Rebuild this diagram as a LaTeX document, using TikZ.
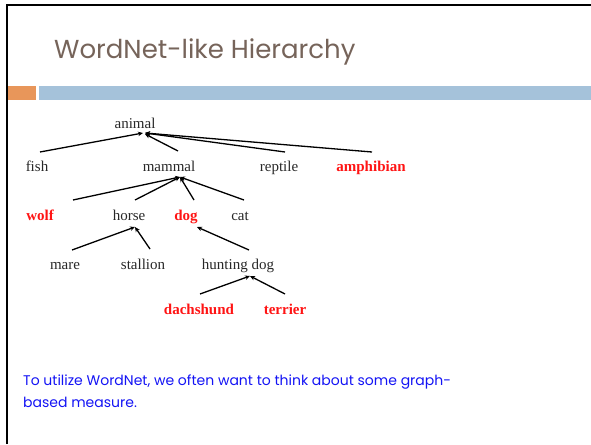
\documentclass[tikz,border=0pt]{standalone}
\usepackage{fontspec}
\setmainfont{Liberation Serif}
\newfontfamily\titlefont{Poppins}
\usetikzlibrary{arrows.meta,calc}
\definecolor{titlebrown}{RGB}{118,100,90}
\definecolor{barorange}{RGB}{232,150,90}
\definecolor{barblue}{RGB}{165,194,218}
\definecolor{treered}{RGB}{255,20,20}
\definecolor{noteblue}{RGB}{20,20,245}
\definecolor{treegray}{RGB}{40,40,40}
\tikzset{
  word/.style={anchor=base,inner sep=0pt,font=\fontsize{15}{17}\selectfont,text=treegray},
  hot/.style={anchor=base,inner sep=0pt,font=\fontsize{15}{17}\selectfont\bfseries,text=treered},
  isa/.style={line width=1.3pt,-{Stealth[length=5pt,width=4.5pt]}}
}
\begin{document}
\begin{tikzpicture}[x=1pt,y=-1pt]
\useasboundingbox (0,0) rectangle (591,444);
\fill[white] (0,0) rectangle (591,444);
% frame
\draw[line width=2pt] (7,444) -- (7,5) -- (591,5);
% title
\node[anchor=base west,inner sep=0pt,text=titlebrown,font=\titlefont\fontsize{26}{30}\selectfont] (title) at (54,59) {WordNet-like Hierarchy};
% bars
\fill[barorange] (8,86) rectangle (36,100);
\fill[barblue] (39,86) rectangle (591,100);
% tree nodes
\node[word] (animal) at (135,128) {animal};
\node[word] (fish) at (37,171) {fish};
\node[word] (mammal) at (169,171) {mammal};
\node[word] (reptile) at (279,171) {reptile};
\node[hot] (amphibian) at (371,171) {amphibian};
\node[hot] (wolf) at (40,220) {wolf};
\node[word] (horse) at (129,220) {horse};
\node[hot] (dog) at (186,220) {dog};
\node[word] (cat) at (240,220) {cat};
\node[word] (mare) at (65,269) {mare};
\node[word] (stallion) at (143,269) {stallion};
\node[word] (hunting) at (238,269) {hunting dog};
\node[hot] (dachshund) at (199,314) {dachshund};
\node[hot] (terrier) at (285,314) {terrier};
% connectors
\draw[isa] ($(fish.base)+(3,-19)$) -- ($(animal.base)+(8,5)$);
\draw[isa] ($(mammal.base)+(9,-20)$) -- ($(animal.base)+(10,6)$);
\draw[isa] ($(reptile.base)+(6,-19)$) -- ($(animal.base)+(10,5)$);
\draw[isa] ($(amphibian.base)+(1,-19)$) -- ($(animal.base)+(10,5)$);
\draw[isa] ($(wolf.base)+(33,-20)$) -- ($(mammal.base)+(11,6)$);
\draw[isa] ($(horse.base)+(6,-20)$) -- ($(mammal.base)+(11,6)$);
\draw[isa] ($(dog.base)+(8,-20)$) -- ($(mammal.base)+(11,6)$);
\draw[isa] ($(cat.base)+(4,-20)$) -- ($(mammal.base)+(11,6)$);
\draw[isa] ($(mare.base)+(7,-19)$) -- ($(horse.base)+(6,7)$);
\draw[isa] ($(stallion.base)+(7,-20)$) -- ($(horse.base)+(6,7)$);
\draw[isa] ($(hunting.base)+(11,-19)$) -- ($(dog.base)+(11,7)$);
\draw[isa] ($(dachshund.base)+(1,-20)$) -- ($(hunting.base)+(12,7)$);
\draw[isa] ($(terrier.base)+(0,-20)$) -- ($(hunting.base)+(12,7)$);
% note (base anchor of a two-line node is the last line's baseline)
\node[anchor=base west,inner sep=0pt,align=left,text=noteblue,font=\titlefont\fontsize{14}{22}\selectfont] (note) at (23,407) {To utilize WordNet, we often want to think about some graph-\\based measure.};
\end{tikzpicture}
\end{document}
